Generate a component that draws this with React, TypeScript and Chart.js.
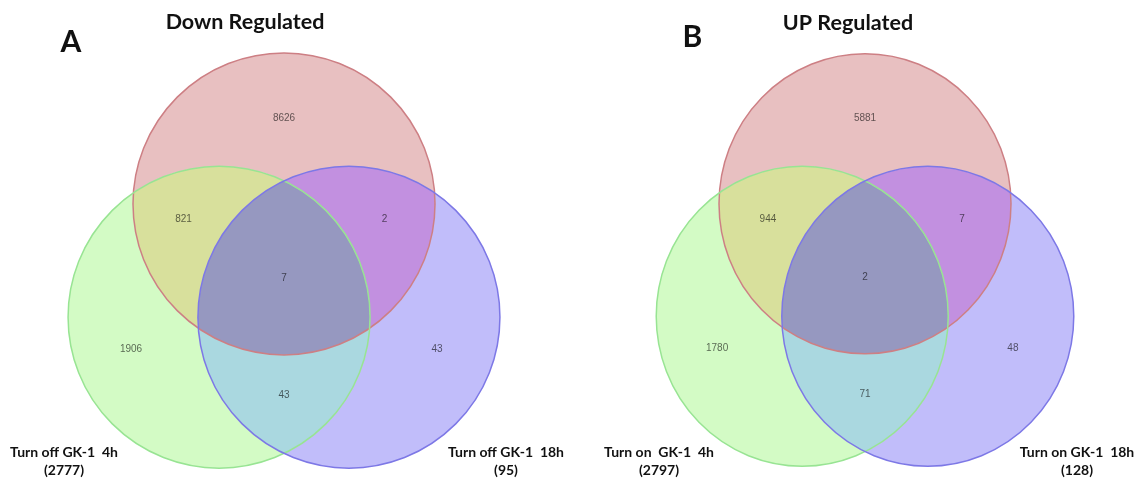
import { useEffect, useRef } from "react";
import { Chart, registerables } from "chart.js";

Chart.register(...registerables);

// Region order used by every count list:
// red only, red∩green, red∩blue, red∩green∩blue, green only, blue only, green∩blue
const downCounts = [8626, 821, 2, 7, 1906, 43, 43];
const upCounts = [5881, 944, 7, 2, 1780, 48, 71];

// Named sets (green circle, blue circle) with their totals
const downSetNames = ["Turn off GK-1  4h", "Turn off GK-1  18h"];
const downSetTotals = [2777, 95];
const upSetNames = ["Turn on  GK-1  4h", "Turn on GK-1  18h"];
const upSetTotals = [2797, 128];

const panelTitles = ["Down Regulated", "UP Regulated"];
const panelLetters = ["A", "B"];

// ---- geometry in unit space (circle radius = 1) ----
const SET_CENTERS = [
  { x: 0, y: 0.375, r: 1 }, // red
  { x: -0.43, y: -0.375, r: 1 }, // green
  { x: 0.43, y: -0.375, r: 1 }, // blue
];
// bit 0 = red, bit 1 = green, bit 2 = blue
const REGION_MASKS = [1, 3, 5, 7, 2, 4, 6];
const REGION_ANCHORS = [
  { x: 0, y: 0.945 },
  { x: -0.665, y: 0.275 },
  { x: 0.665, y: 0.275 },
  { x: 0, y: -0.118 },
  { x: -1.013, y: -0.59 },
  { x: 1.013, y: -0.59 },
  { x: 0, y: -0.895 },
];
const REGION_FILLS = [
  "#e8c0c1",
  "#d8e09c",
  "#c290e0",
  "#9698c0",
  "#d3fbc5",
  "#c1bdfa",
  "#aad8e0",
];
const SET_STROKES = ["#cd7f84", "#98e493", "#7d78e6"];

const HEIGHT = 479;

type PanelLayout = {
  left: number;
  width: number;
  originX: number;
  originY: number;
  ppuX: number;
  ppuY: number;
  letter: { x: number; y: number };
  title: { x: number; y: number };
  labelLeftX: number;
  labelRightX: number;
  labelY1: number;
  labelY2: number;
};

const LAYOUTS: PanelLayout[] = [
  {
    left: 0,
    width: 570,
    originX: 284,
    originY: 260.5,
    ppuX: 151,
    ppuY: 151,
    letter: { x: 71, y: 42 },
    title: { x: 245, y: 22 },
    labelLeftX: 64,
    labelRightX: 506,
    labelY1: 452,
    labelY2: 470,
  },
  {
    left: 570,
    width: 567,
    originX: 295,
    originY: 260,
    ppuX: 146,
    ppuY: 150,
    letter: { x: 122.5, y: 37 },
    title: { x: 278, y: 23 },
    labelLeftX: 89,
    labelRightX: 507,
    labelY1: 452,
    labelY2: 470,
  },
];

const vennPlugin = {
  id: "venn",
  beforeDatasetsDraw(chart: any) {
    const { ctx, width, height } = chart;
    const xs = chart.scales.x;
    const ys = chart.scales.y;
    const sets = chart.data.datasets[0].data.map((p: any) => ({
      cx: xs.getPixelForValue(p.x),
      cy: ys.getPixelForValue(p.y),
      rx: Math.abs(xs.getPixelForValue(p.x + p.r) - xs.getPixelForValue(p.x)),
      ry: Math.abs(ys.getPixelForValue(p.y + p.r) - ys.getPixelForValue(p.y)),
    }));

    // fill each region of the diagram
    REGION_MASKS.forEach((mask, i) => {
      ctx.save();
      sets.forEach((s: any, k: number) => {
        ctx.beginPath();
        if (!(mask & (1 << k))) ctx.rect(0, 0, width, height);
        ctx.ellipse(s.cx, s.cy, s.rx, s.ry, 0, 0, Math.PI * 2);
        ctx.clip("evenodd");
      });
      ctx.fillStyle = REGION_FILLS[i];
      ctx.fillRect(0, 0, width, height);
      ctx.restore();
    });

    // circle outlines
    ctx.save();
    ctx.lineWidth = 1.5;
    sets.forEach((s: any, k: number) => {
      ctx.beginPath();
      ctx.ellipse(s.cx, s.cy, s.rx, s.ry, 0, 0, Math.PI * 2);
      ctx.strokeStyle = SET_STROKES[k];
      ctx.stroke();
    });
    ctx.restore();
  },
  afterDatasetsDraw(chart: any, _args: any, opts: any) {
    const { ctx } = chart;
    const xs = chart.scales.x;
    const ys = chart.scales.y;
    const L: PanelLayout = opts.layout;

    // region counts
    const meta = chart.getDatasetMeta(1);
    ctx.save();
    ctx.font = "10px 'Liberation Sans', Arial, sans-serif";
    ctx.textAlign = "center";
    ctx.textBaseline = "middle";
    ctx.fillStyle = "rgba(0,0,0,0.6)";
    meta.data.forEach((pt: any, i: number) => {
      ctx.fillText(String(opts.counts[i]), pt.x, pt.y);
    });
    ctx.restore();

    const px = (v: number) => xs.getPixelForValue((v - L.originX) / L.ppuX);
    const py = (v: number) => ys.getPixelForValue((L.originY - v) / L.ppuY);

    ctx.save();
    ctx.fillStyle = "#111";
    ctx.textAlign = "center";
    ctx.textBaseline = "middle";

    // panel letter
    ctx.font = "bold 30px Lato, sans-serif";
    ctx.fillText(opts.letter, px(L.letter.x), py(L.letter.y));

    // panel title
    ctx.font = "bold 21.5px Lato, sans-serif";
    ctx.fillText(opts.title, px(L.title.x), py(L.title.y));

    // set labels
    ctx.font = "bold 14px Lato, sans-serif";
    const xsLab = [L.labelLeftX, L.labelRightX];
    opts.setNames.forEach((name: string, i: number) => {
      ctx.fillText(name, px(xsLab[i]), py(L.labelY1));
      ctx.fillText(`(${opts.setTotals[i]})`, px(xsLab[i]), py(L.labelY2));
    });
    ctx.restore();
  },
};

type PanelProps = {
  layout: PanelLayout;
  counts: number[];
  setNames: string[];
  setTotals: number[];
  title: string;
  letter: string;
};

function VennPanel(props: PanelProps) {
  const ref = useRef<HTMLCanvasElement>(null);
  const { layout: L } = props;

  useEffect(() => {
    if (!ref.current) return;
    const chart = new Chart(ref.current, {
      type: "scatter",
      data: {
        datasets: [
          {
            label: "sets",
            data: SET_CENTERS.map((c) => ({ ...c })),
            pointRadius: 0,
            pointHoverRadius: 0,
          },
          {
            label: "regions",
            data: REGION_ANCHORS.map((a) => ({ ...a })),
            pointRadius: 0,
            pointHoverRadius: 0,
          },
        ],
      },
      options: {
        animation: false,
        responsive: false,
        maintainAspectRatio: false,
        events: [],
        layout: { padding: 0 },
        scales: {
          x: {
            type: "linear",
            display: false,
            min: -L.originX / L.ppuX,
            max: (L.width - L.originX) / L.ppuX,
          },
          y: {
            type: "linear",
            display: false,
            min: -(HEIGHT - L.originY) / L.ppuY,
            max: L.originY / L.ppuY,
          },
        },
        plugins: {
          legend: { display: false },
          tooltip: { enabled: false },
          venn: {
            layout: L,
            counts: props.counts,
            setNames: props.setNames,
            setTotals: props.setTotals,
            title: props.title,
            letter: props.letter,
          },
        } as any,
      },
      plugins: [vennPlugin],
    });
    return () => chart.destroy();
  }, []);

  return (
    <canvas
      ref={ref}
      width={L.width}
      height={HEIGHT}
      style={{ position: "absolute", left: L.left, top: 0 }}
    />
  );
}

export default function App() {
  return (
    <div
      style={{
        position: "absolute",
        left: 0,
        top: 0,
        width: 1137,
        height: HEIGHT,
        background: "#fff",
        overflow: "hidden",
      }}
    >
      <VennPanel
        layout={LAYOUTS[0]}
        counts={downCounts}
        setNames={downSetNames}
        setTotals={downSetTotals}
        title={panelTitles[0]}
        letter={panelLetters[0]}
      />
      <VennPanel
        layout={LAYOUTS[1]}
        counts={upCounts}
        setNames={upSetNames}
        setTotals={upSetTotals}
        title={panelTitles[1]}
        letter={panelLetters[1]}
      />
    </div>
  );
}
